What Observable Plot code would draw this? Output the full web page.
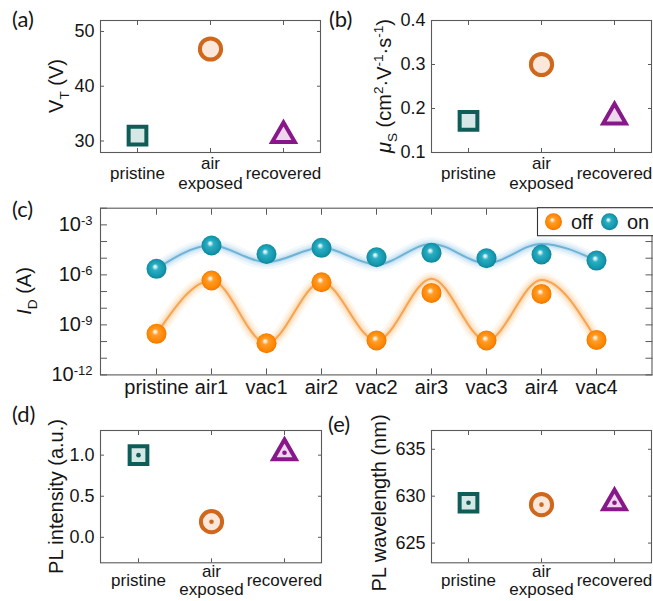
<!DOCTYPE html>
<html>
<head>
<meta charset="utf-8">
<script src="https://cdn.jsdelivr.net/npm/d3@7"></script>
<script src="https://cdn.jsdelivr.net/npm/@observablehq/plot@0.6"></script>
<style>
  html, body { margin: 0; padding: 0; background: #fff; overflow: hidden; }
  #root { position: relative; width: 653px; height: 601px; background: #fff; }
</style>
</head>
<body>
<div id="root"></div>
<script>
// ---------- data ----------
const conditions = ["pristine", "air exposed", "recovered"];
const conditionTickLabels = ["pristine", "air\nexposed", "recovered"];
const thresholdVoltage = [31.0, 46.8, 31.0];      // V_T (V)
const mobility = [0.172, 0.300, 0.181];            // mu_S (cm2 V-1 s-1)
const plIntensity = [1.00, 0.19, 1.03];            // a.u.
const plWavelength = [629.3, 629.1, 629.3];        // nm

const steps = ["pristine", "air1", "vac1", "air2", "vac2", "air3", "vac3", "air4", "vac4"];
const offCurrent = [2.9e-10, 4.6e-7, 7.9e-11, 3.6e-7, 1.15e-10, 8.3e-8, 1.15e-10, 7.2e-8, 1.26e-10];
const onCurrent  = [2.3e-6, 5.8e-5, 1.8e-5, 4.2e-5, 1.15e-5, 2.1e-5, 1.0e-5, 1.66e-5, 7.2e-6];
const offFit     = [2.9e-10, 4.6e-7, 7.9e-11, 3.6e-7, 1.15e-10, 5.8e-7, 1.15e-10, 5.0e-7, 1.26e-10];
const onFit      = [2.3e-6, 5.8e-5, 5.8e-6, 4.2e-5, 4.2e-6, 7.2e-5, 5.0e-6, 7.2e-5, 7.2e-6];
const seriesNames = ["off", "on"];

const yTicksA = [30, 40, 50];
const yTicksB = [0.1, 0.2, 0.3, 0.4];
const yTicksC = d3.range(-12, -1).map(e => Math.pow(10, e));
const yLabelTicksC = [1e-12, 1e-9, 1e-6, 1e-3];
const yTicksD = [0.0, 0.5, 1.0];
const yTicksE = [625, 630, 635];

// ---------- styles ----------
const FONT = "'Liberation Sans', Arial, Helvetica, sans-serif";
const LETTER_FONT = "Lato, 'Open Sans', sans-serif";
const AXIS = "#5a5a5a";
const TEXT = "#151515";
const markerStyles = [
  {symbol: "square",   stroke: "#0f5d59", fill: "#d5e8e6", r: 10},
  {symbol: "circle",   stroke: "#cf681d", fill: "#fbe8da", r: 10.6},
  {symbol: "triangle", stroke: "#88188a", fill: "#eed6ee", r: 8.4}
];
const root = document.getElementById("root");

function mount(svg, left, top) {
  svg.style.position = "absolute";
  svg.style.left = left + "px";
  svg.style.top = top + "px";
  root.appendChild(svg);
}

function addLetter(svg, text, x, y) {
  d3.select(svg).append("text")
    .attr("x", x).attr("y", y)
    .attr("text-anchor", "start")
    .attr("font-family", LETTER_FONT)
    .attr("font-size", 22)
    .attr("fill", TEXT)
    .text(text);
}

// parts: [{t, sub, sup, italic}]
function addRotLabel(svg, x, y, parts, size) {
  const t = d3.select(svg).append("text")
    .attr("transform", `translate(${x},${y}) rotate(-90)`)
    .attr("text-anchor", "middle")
    .attr("font-family", FONT)
    .attr("font-size", size)
    .attr("fill", TEXT);
  let shift = 0;
  for (const p of parts) {
    const ts = t.append("tspan").text(p.t);
    const target = p.sub ? 0.28 * size : p.sup ? -0.4 * size : 0;
    if (target !== shift) ts.attr("dy", target - shift);
    shift = target;
    if (p.sub || p.sup) ts.attr("font-size", size * 0.68);
    if (p.italic) ts.attr("font-style", "italic");
  }
}

function smallPanel(cfg) {
  const rows = conditions.map((c, i) => ({condition: c, value: cfg.values[i]}));
  const tickOpts = {tickSize: 4, fill: "none", label: null, stroke: AXIS};
  const svg = Plot.plot({
    width: cfg.width, height: cfg.height,
    marginTop: cfg.margin[0], marginRight: cfg.margin[1], marginBottom: cfg.margin[2], marginLeft: cfg.margin[3],
    style: {background: "none", overflow: "visible", fontFamily: FONT, fontSize: "17px", color: TEXT},
    x: {type: "point", domain: conditions, padding: 0.5},
    y: {domain: cfg.yDomain},
    marks: [
      Plot.frame({stroke: AXIS, strokeWidth: 1.1}),
      Plot.axisY(cfg.yTicks, {...tickOpts, anchor: "left", dx: 4}),
      Plot.axisY(cfg.yTicks, {...tickOpts, anchor: "right", dx: -4}),
      Plot.axisX(conditions, {...tickOpts, anchor: "bottom", dy: -4}),
      Plot.axisX(conditions, {...tickOpts, anchor: "top", dy: 4}),
      Plot.axisY(cfg.yTicks, {anchor: "left", tickSize: 0, tickPadding: 6, tickFormat: cfg.yTickFormat, label: null, fill: TEXT, fontSize: 18}),
      Plot.axisX(conditions, {anchor: "bottom", tickSize: 0, tickPadding: cfg.catPad, lineAnchor: "middle", lineHeight: cfg.catLine,
        tickFormat: d => conditionTickLabels[conditions.indexOf(d)], label: null, fill: TEXT, fontSize: 17}),
      ...rows.map((row, i) => Plot.dot([row], {x: "condition", y: "value", ...markerStyles[i], strokeWidth: 4})),
      ...(cfg.centerDot ? rows.map((row, i) => Plot.dot([row], {x: "condition", y: "value", r: 2.3, fill: markerStyles[i].stroke})) : [])
    ]
  });
  mount(svg, cfg.left, cfg.top);
  addRotLabel(svg, cfg.labelX, cfg.labelY, cfg.label, 20);
  addLetter(svg, cfg.letter, cfg.letterX, cfg.letterY);
  return svg;
}

// (a)
smallPanel({
  values: thresholdVoltage, yDomain: [27.9, 52], yTicks: yTicksA, yTickFormat: d => String(d),
  left: 0, top: 0, width: 326, height: 200, margin: [20, 6, 48, 100], catPad: 20, catLine: 1.15,
  label: [{t: "V"}, {t: "T", sub: true}, {t: " (V)"}], labelX: 63, labelY: 86,
  letter: "(a)", letterX: 12, letterY: 27
});
// (b)
smallPanel({
  values: mobility, yDomain: [0.1, 0.4], yTicks: yTicksB, yTickFormat: d3.format(".1f"),
  left: 326, top: 0, width: 327, height: 200, margin: [20, 2, 48, 105], catPad: 20, catLine: 1.15,
  label: [{t: "μ", italic: true}, {t: "S", sub: true}, {t: " (cm"}, {t: "2", sup: true}, {t: "·V"}, {t: "-1", sup: true}, {t: "·s"}, {t: "-1", sup: true}, {t: ")"}],
  labelX: 65, labelY: 86,
  letter: "(b)", letterX: 3, letterY: 27
});
// (d)
smallPanel({
  values: plIntensity, yDomain: [-0.31, 1.3], yTicks: yTicksD, yTickFormat: d3.format(".1f"),
  left: 0, top: 400, width: 326, height: 201, margin: [30, 5, 38.7, 100], centerDot: true, catPad: 17, catLine: 1.08,
  label: [{t: "PL intensity (a.u.)"}], labelX: 63, labelY: 96.5,
  letter: "(d)", letterX: 12, letterY: 22
});
// (e)
smallPanel({
  values: plWavelength, yDomain: [622.9, 637], yTicks: yTicksE, yTickFormat: d => String(d),
  left: 326, top: 400, width: 327, height: 201, margin: [30, 2, 38.7, 105], centerDot: true, catPad: 17, catLine: 1.08,
  label: [{t: "PL wavelength (nm)"}], labelX: 60, labelY: 103,
  letter: "(e)", letterX: 2, letterY: 32
});

// (c)
const offRows = steps.map((s, i) => ({step: s, value: offCurrent[i]}));
const onRows = steps.map((s, i) => ({step: s, value: onCurrent[i]}));
const offFitRows = steps.map((s, i) => ({step: s, value: offFit[i]}));
const onFitRows = steps.map((s, i) => ({step: s, value: onFit[i]}));

function glowLine(rows, color, glow) {
  return [
    Plot.line(rows, {x: "step", y: "value", curve: "monotone-x", stroke: glow, strokeWidth: 14, strokeOpacity: 0.15}),
    Plot.line(rows, {x: "step", y: "value", curve: "monotone-x", stroke: glow, strokeWidth: 9, strokeOpacity: 0.25}),
    Plot.line(rows, {x: "step", y: "value", curve: "monotone-x", stroke: glow, strokeWidth: 5, strokeOpacity: 0.4}),
    Plot.line(rows, {x: "step", y: "value", curve: "monotone-x", stroke: color, strokeWidth: 2})
  ];
}
const ctick = {tickSize: 7, fill: "none", label: null, stroke: AXIS};
const svgC = Plot.plot({
  width: 653, height: 210,
  marginTop: 17.7, marginRight: 1.5, marginBottom: 25.6, marginLeft: 100,
  style: {background: "none", overflow: "visible", fontFamily: FONT, fontSize: "20px", color: TEXT},
  x: {type: "point", domain: steps, padding: 1},
  y: {type: "log", domain: [1e-12, 1e-2]},
  marks: [
    ...glowLine(onFitRows, "#6eb2d6", "#a9d3ea"),
    ...glowLine(offFitRows, "#f6a352", "#fbc98f"),
    Plot.dot(onRows, {x: "step", y: "value", r: 10, fill: "url(#sphereOn)"}),
    Plot.dot(offRows, {x: "step", y: "value", r: 10, fill: "url(#sphereOff)"}),
    Plot.frame({stroke: AXIS, strokeWidth: 1.1}),
    Plot.axisY(yTicksC, {...ctick, anchor: "left", dx: 7}),
    Plot.axisY(yTicksC, {...ctick, anchor: "right", dx: -7}),
    Plot.axisX(steps, {...ctick, tickSize: 6, anchor: "bottom", dy: -6}),
    Plot.axisX(steps, {...ctick, tickSize: 6, anchor: "top", dy: 6}),
    Plot.axisY(yLabelTicksC, {anchor: "left", tickSize: 0, tickPadding: 8, label: null, fill: TEXT, fontSize: 20,
      tickFormat: d => "10^" + Math.round(Math.log10(d))}),
    Plot.axisX(steps, {anchor: "bottom", tickSize: 0, tickPadding: 13, lineAnchor: "middle", label: null, fill: TEXT, fontSize: 20})
  ]
});
mount(svgC, 0, 190);

const sel = d3.select(svgC);
const defs = sel.insert("defs", ":first-child");
function sphere(id, stops) {
  const g = defs.append("radialGradient").attr("id", id)
    .attr("cx", 0.5).attr("cy", 0.5).attr("r", 0.55).attr("fx", 0.42).attr("fy", 0.38);
  for (const [o, c] of stops) g.append("stop").attr("offset", o).attr("stop-color", c);
}
sphere("sphereOff", [[0, "#ffffff"], [0.12, "#ffe2bd"], [0.3, "#ff9d2a"], [0.75, "#ff8600"], [1, "#e56f00"]]);
sphere("sphereOn", [[0, "#ffffff"], [0.12, "#bfe8ef"], [0.3, "#2aaec3"], [0.75, "#1497ac"], [1, "#0b7a8c"]]);

// superscript exponents on log tick labels
sel.selectAll('g[aria-label="y-axis tick label"] text').each(function () {
  const [base, exp] = this.textContent.split("^");
  const t = d3.select(this);
  t.text(base);
  t.append("tspan").attr("font-size", 13).attr("dy", -6).text(exp);
});

addRotLabel(svgC, 31, 101, [{t: "I", italic: true}, {t: "D", sub: true}, {t: " (A)"}], 20);
addLetter(svgC, "(c)", 12, 27);

// legend
const lg = sel.append("g");
lg.append("rect").attr("x", 537.5).attr("y", 17.7).attr("width", 130).attr("height", 28)
  .attr("fill", "#fff").attr("stroke", "#333").attr("stroke-width", 1.1);
const legendItems = [{name: seriesNames[0], grad: "sphereOff", cx: 553.5, tx: 571},
                     {name: seriesNames[1], grad: "sphereOn", cx: 609.5, tx: 627}];
for (const it of legendItems) {
  lg.append("circle").attr("cx", it.cx).attr("cy", 31.7).attr("r", 8.5).attr("fill", `url(#${it.grad})`);
  lg.append("text").attr("x", it.tx).attr("y", 31.7).attr("dy", "0.35em")
    .attr("font-family", FONT).attr("font-size", 20).attr("fill", TEXT).attr("text-anchor", "start").text(it.name);
}
</script>
</body>
</html>
